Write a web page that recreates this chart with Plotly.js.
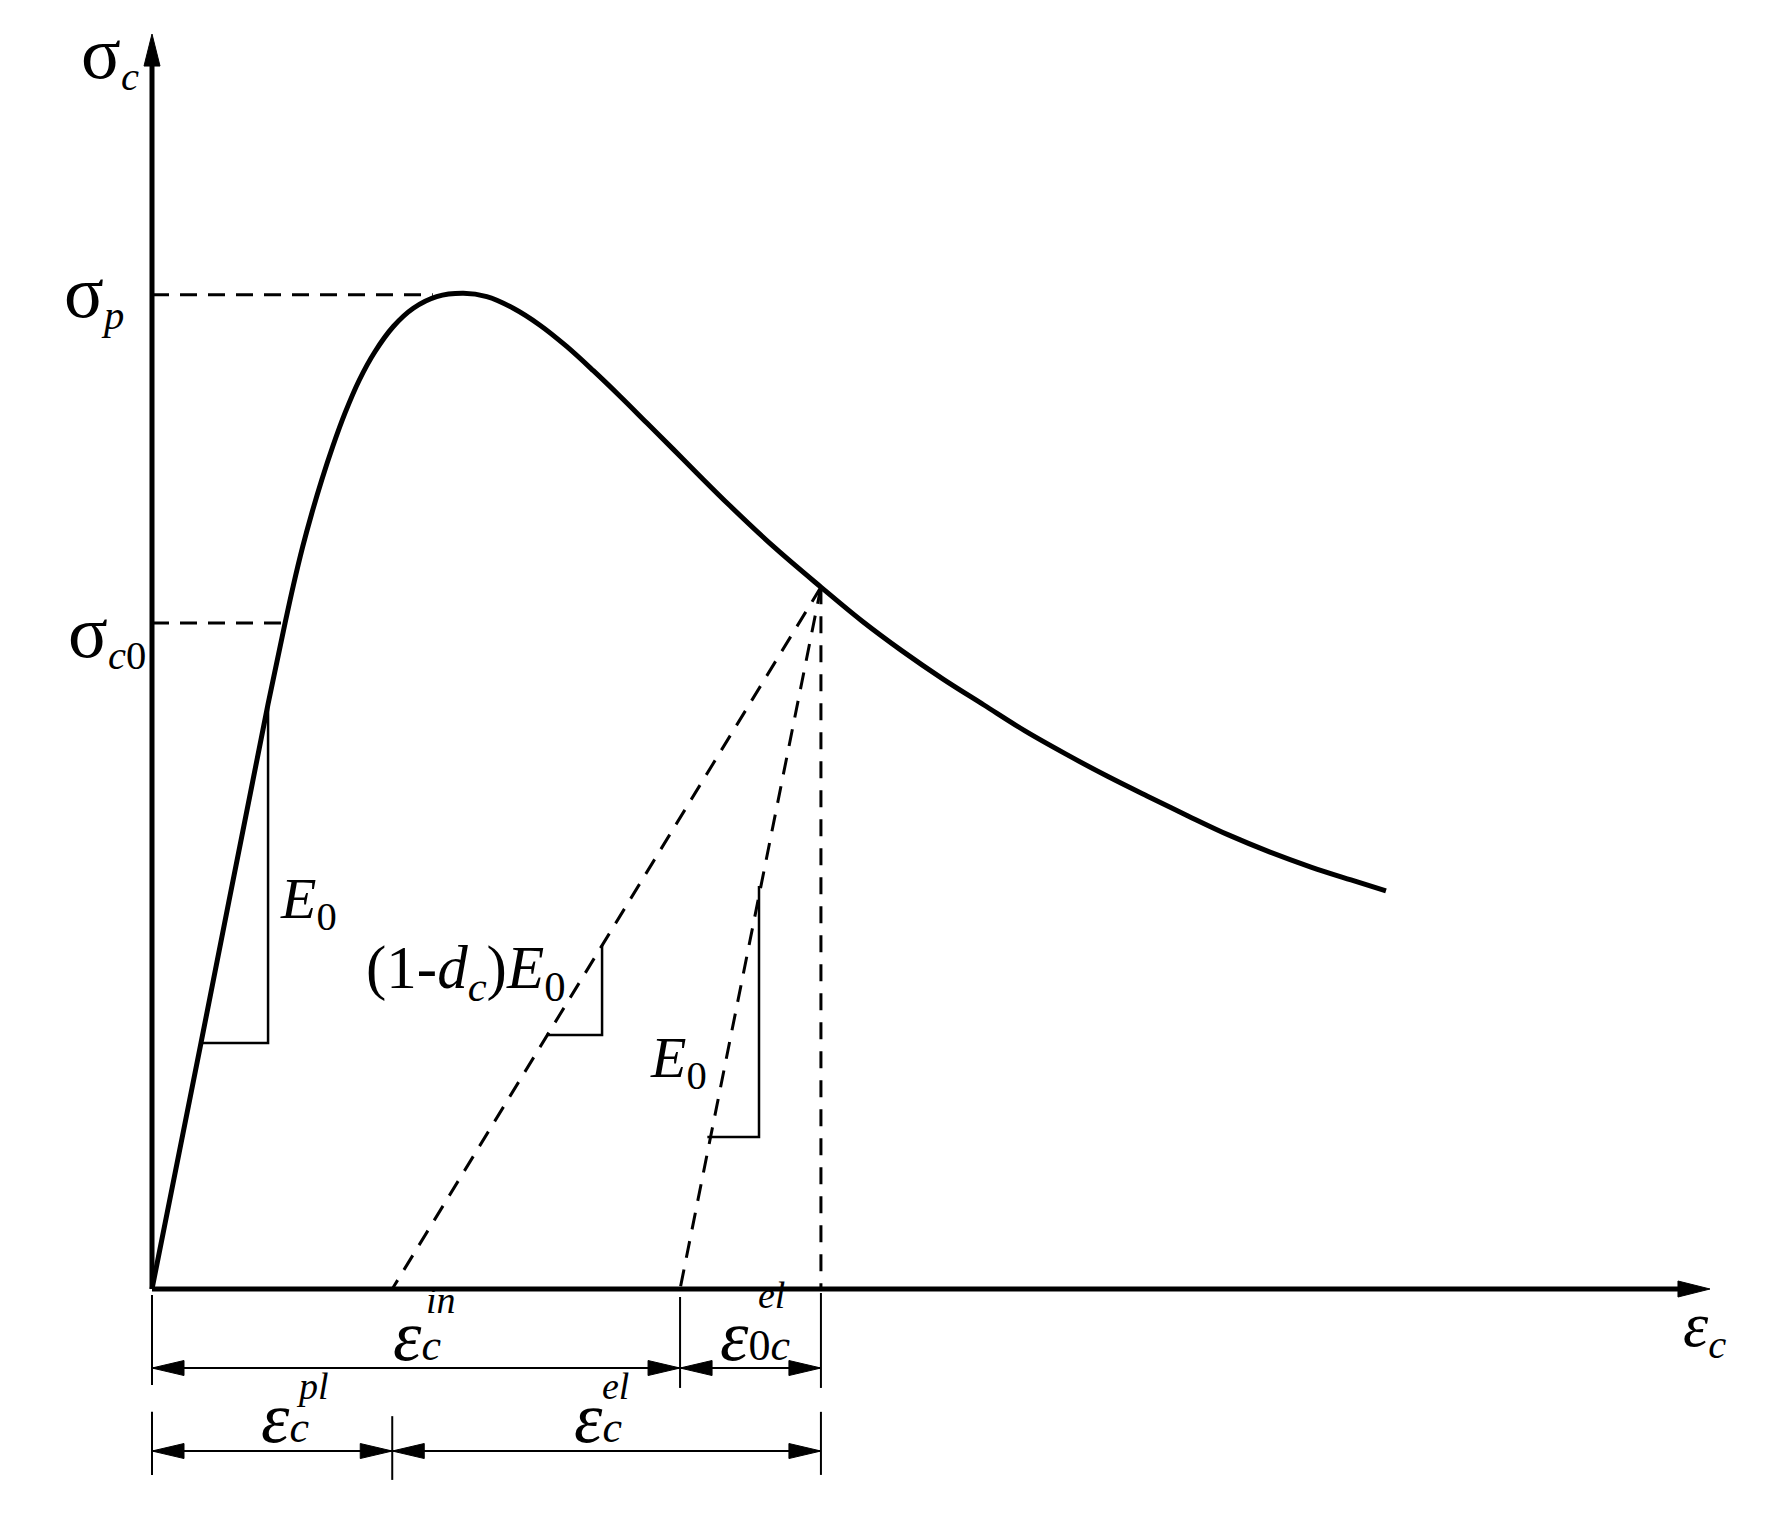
<!DOCTYPE html>
<html>
<head>
<meta charset="utf-8">
<script src="https://cdn.plot.ly/plotly-3.0.1.min.js"></script>
<style>
  html, body { margin: 0; padding: 0; background: #fff; }
  #chart { width: 1788px; height: 1523px; }
</style>
</head>
<body>
<div id="chart"></div>
<script>
/* concrete compression: stress-strain curve with damage unloading */

/* --- data (strain in arbitrary units, stress in arbitrary units) --- */
const strain = [0, 0.314, 0.744, 0.853, 0.906, 0.966, 1.024, 1.088, 1.158, 1.237, 1.329,
                1.429, 1.547, 1.675, 1.825, 1.996, 2.146, 2.316, 2.487, 2.658, 2.829,
                3.000, 3.171, 3.342, 3.492, 3.705, 3.994, 4.288, 4.551, 4.808, 5.071,
                5.333, 5.596, 5.859, 6.122, 6.378, 6.641, 6.904, 7.167, 7.429, 7.686, 7.910];
const stress = [0, 7.41, 17.62, 20.06, 21.19, 22.36, 23.36, 24.37, 25.37, 26.38, 27.38,
                28.23, 28.99, 29.54, 29.89, 29.99, 29.89, 29.54, 29.03, 28.39, 27.66,
                26.89, 26.09, 25.29, 24.58, 23.59, 22.32, 21.14, 20.12, 19.22, 18.37,
                17.59, 16.81, 16.11, 15.45, 14.85, 14.25, 13.67, 13.16, 12.71, 12.32, 11.99];

const sigmaP  = 29.95;   // peak stress
const epsPeakLine = 1.80;  // end of the sigma_p guide
const sigmaC0 = 20.06;   // end of linear branch
const epsC0   = 0.853;

const epsUnl = 4.288;    // unloading point
const sigUnl = 21.14;
const epsPl  = 1.54;     // damaged unloading intercept  (eps_c^pl)
const epsEl0 = 3.385;    // elastic unloading intercept  (eps_c^in end)

/* slope triangles: [x0, x1, x1], [y0, y0, y1] */
const triE0X   = [0.314, 0.744, 0.744], triE0Y   = [7.41, 7.41, 17.62];
const triDmgX  = [2.526, 2.885, 2.885], triDmgY  = [7.65, 7.65, 10.36];
const triE0bX  = [3.560, 3.891, 3.891], triE0bY  = [4.58, 4.58, 12.14];

/* dimension rows: start, end, row level */
const dimStart = [0, epsEl0, 0, epsPl];
const dimEnd   = [epsEl0, epsUnl, epsPl, epsUnl];
const dimRow   = [-2.38, -2.38, -4.88, -4.88];
/* extension lines: x, bottom, top */
const extX   = [0, epsEl0, epsUnl, 0, epsPl, epsUnl];
const extLo  = [-2.89, -2.98, -2.98, -5.60, -5.75, -5.60];
const extHi  = [-0.18, -0.24, -0.12, -3.70, -3.83, -3.70];

const yAxisTop = 37.80, xAxisEnd = 9.987;

/* --- geometry of the page --- */
const W = 1788, H = 1523;
const X0 = 152, Y0 = 1289;          // pixel of the origin
const KX = 156, KY = 33.2;          // pixels per unit
const xr = [-X0 / KX, (W - X0) / KX];
const yr = [-(H - Y0) / KY, Y0 / KY];

const FONT = 'Liberation Serif, Times New Roman, serif';
const traces = [];

function line(x, y, width, dash) {
  traces.push({
    x, y, mode: 'lines', type: 'scatter', hoverinfo: 'skip', showlegend: false,
    line: { color: '#000', width, dash: dash || 'solid', simplify: false }
  });
}

/* filled arrowhead; dir in screen space: 'up' | 'left' | 'right' */
function head(tx, ty, dir, len, half) {
  const d = { up: [0, -1], left: [-1, 0], right: [1, 0] }[dir];
  const n = [-d[1], d[0]];
  const pts = [[0, 0], [-len * d[0] + half * n[0], -len * d[1] + half * n[1]],
               [-len * d[0] - half * n[0], -len * d[1] - half * n[1]], [0, 0]];
  traces.push({
    x: pts.map(p => tx + p[0] / KX),
    y: pts.map(p => ty - p[1] / KY),
    mode: 'lines', type: 'scatter', fill: 'toself', fillcolor: '#000',
    hoverinfo: 'skip', showlegend: false,
    line: { color: '#000', width: 1 }
  });
}

/* axes */
line([0, 0], [0, yAxisTop - 31 / KY], 5);
line([0, xAxisEnd - 31 / KX], [0, 0], 5);
head(0, yAxisTop, 'up', 32, 8);
head(xAxisEnd, 0, 'right', 32, 8);

/* guide lines */
line([0, epsPeakLine], [sigmaP, sigmaP], 3, '17px,11px');
line([0, epsC0], [sigmaC0, sigmaC0], 3, '17px,11px');

/* unloading lines */
line([epsUnl, epsPl], [sigUnl, 0], 3, '17px,12px');
line([epsUnl, epsEl0], [sigUnl, 0], 3, '17px,12px');
line([epsUnl, epsUnl], [sigUnl, 0], 3, '17px,12px');

/* slope triangles */
line(triE0X, triE0Y, 2.5);
line(triDmgX, triDmgY, 2.5);
line(triE0bX, triE0bY, 2.5);

/* main curve */
traces.push({
  x: strain, y: stress, mode: 'lines', type: 'scatter', hoverinfo: 'skip', showlegend: false,
  line: { color: '#000', width: 5, shape: 'spline', smoothing: 1, simplify: false }
});

/* dimension lines */
extX.forEach((x, i) => line([x, x], [extLo[i], extHi[i]], 2));
dimStart.forEach((s, i) => {
  line([s, dimEnd[i]], [dimRow[i], dimRow[i]], 2);
  head(s, dimRow[i], 'left', 32, 7.5);
  head(dimEnd[i], dimRow[i], 'right', 32, 7.5);
});

/* labels */
const big = { family: FONT, size: 58, color: '#000' };
const mid = { family: FONT, size: 61, color: '#000' };
const small = { family: FONT, size: 38, color: '#000' };
const SIG = '<span style="font-size:74px">σ</span>';
const EPS = '<span style="font-size:72px"><i>ε</i></span>';
const EPSA = '<span style="font-size:64px"><i>ε</i></span>';
const low = s => '<span style="font-size:44px">' + s + '</span>';
const labels = [
  [SIG + '<sub><i>c</i></sub>', -0.272, 37.14, big],
  [SIG + '<sub><i>p</i></sub>', -0.372, 29.94, big],
  [SIG + '<sub><i>c</i>0</sub>', -0.288, 19.70, big],
  ['<i>E</i><sub>0</sub>', 1.006, 11.63, big],
  ['(1-<i>d</i><sub><i>c</i></sub>)<i>E</i><sub>0</sub>', 2.013, 9.55, mid],
  ['<i>E</i><sub>0</sub>', 3.378, 6.84, big],
  [EPSA + '<sub><i>c</i></sub>', 9.955, -1.18, big],
  ['<i>in</i>', 1.853, -0.33, small],
  [EPS + low('<i>c</i>'), 1.697, -1.43, big],
  ['<i>el</i>', 3.968, -0.18, small],
  [EPS + low('0<i>c</i>'), 3.865, -1.43, big],
  ['<i>pl</i>', 1.026, -2.92, small],
  [EPS + low('<i>c</i>'), 0.853, -3.90, big],
  ['<i>el</i>', 2.974, -2.92, small],
  [EPS + low('<i>c</i>'), 2.856, -3.90, big]
];
const annotations = labels.map(([text, x, y, font]) => ({
  text, x, y, xref: 'x', yref: 'y', showarrow: false,
  xanchor: 'center', yanchor: 'middle', font
}));

const layout = {
  width: W, height: H, autosize: false,
  margin: { l: 0, r: 0, t: 0, b: 0, pad: 0 },
  paper_bgcolor: '#fff', plot_bgcolor: '#fff',
  xaxis: { range: xr, visible: false, fixedrange: true },
  yaxis: { range: yr, visible: false, fixedrange: true },
  annotations, showlegend: false
};

Plotly.newPlot('chart', traces, layout, { displayModeBar: false, staticPlot: true });
</script>
</body>
</html>
